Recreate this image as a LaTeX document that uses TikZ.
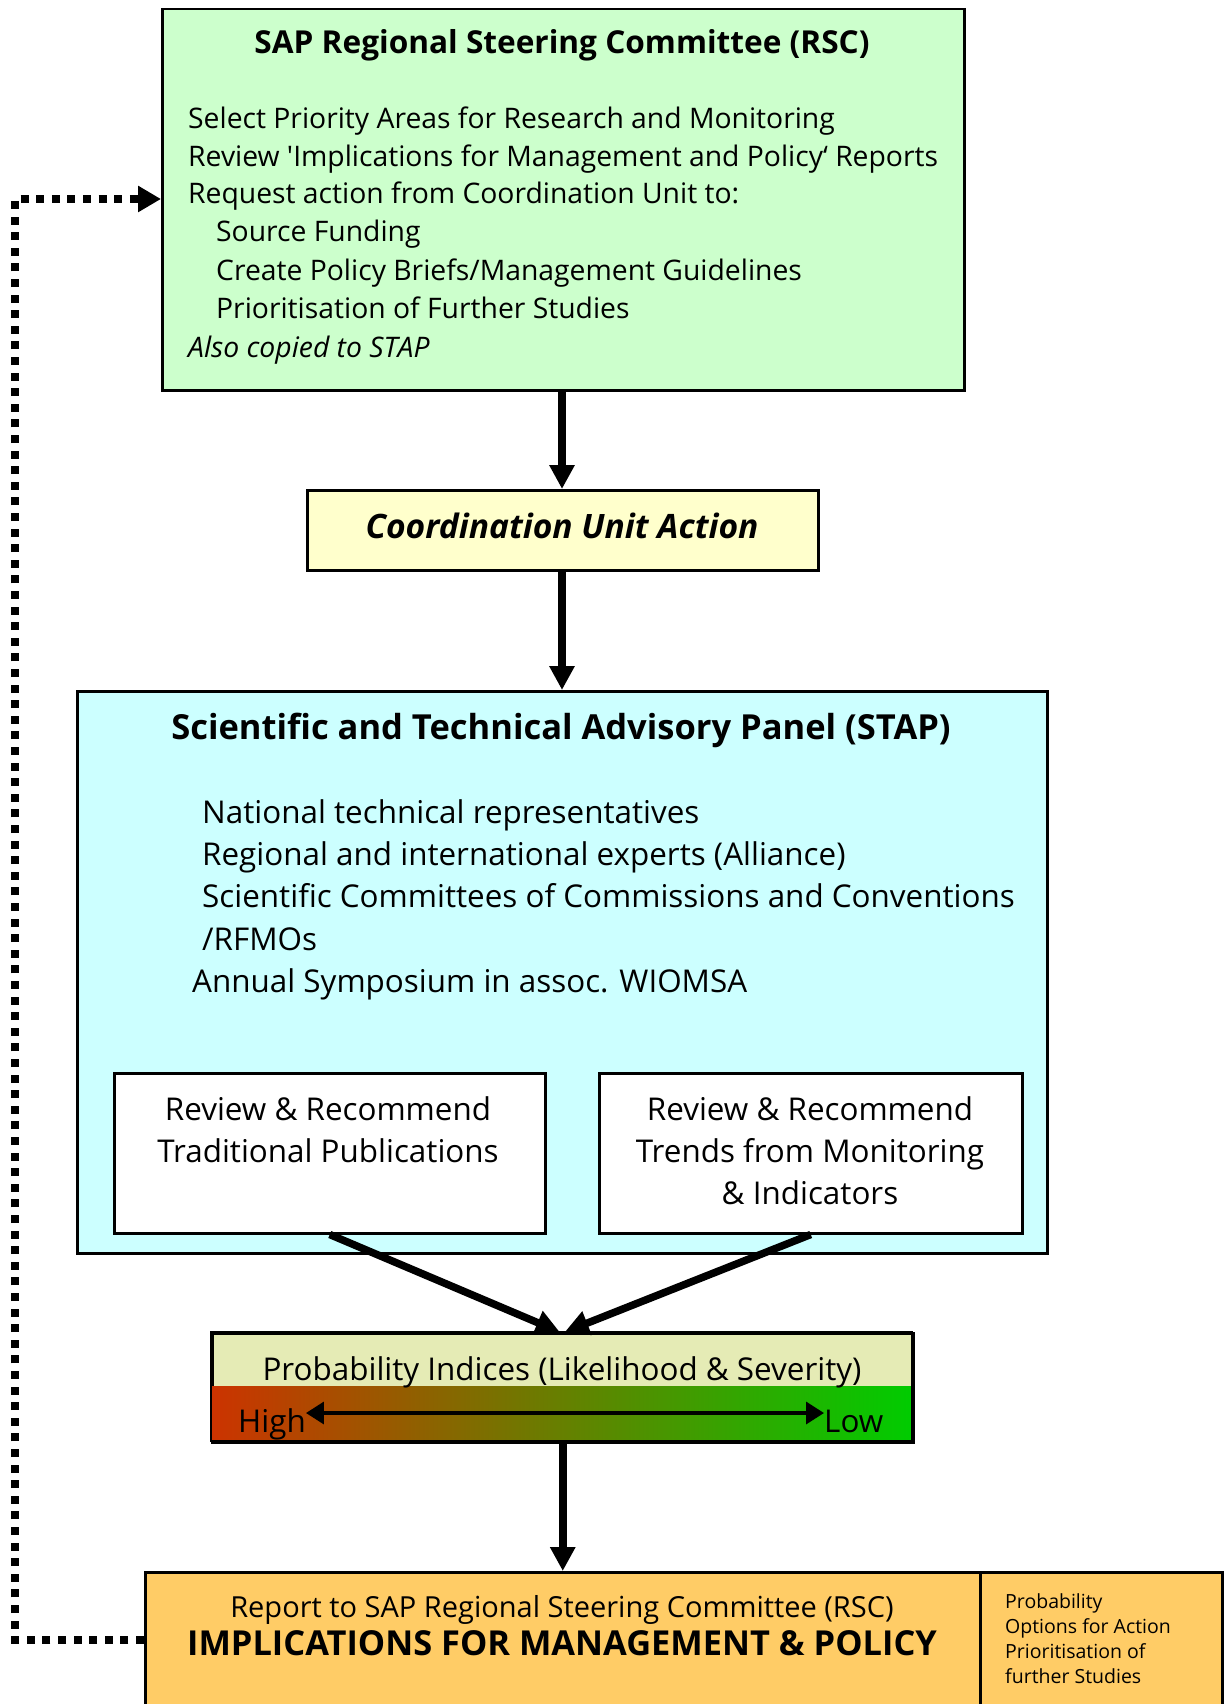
\documentclass[tikz,border=0pt]{standalone}
\usepackage{fontspec}
\setmainfont{Open Sans}
\usetikzlibrary{arrows.meta,calc}
\definecolor{rscgreen}{HTML}{CCFFCC}
\definecolor{cuyellow}{HTML}{FFFFCC}
\definecolor{stapcyan}{HTML}{CCFFFF}
\definecolor{probtop}{HTML}{E5EBB5}
\definecolor{rptorange}{HTML}{FFCC66}
\definecolor{hired}{HTML}{CC3300}
\definecolor{logreen}{HTML}{00CC00}
\begin{document}
\begin{tikzpicture}[x=1pt,y=-1pt,
  box/.style={draw=black,line width=2.5pt,inner sep=0pt,anchor=north west},
  txt/.style={inner sep=0pt,anchor=base west},
  ctxt/.style={inner sep=0pt,anchor=base},
  flow/.style={line width=7.5pt,-{Triangle[length=24pt,width=24pt]}},
  dotarrow/.style={line width=8pt,dash pattern=on 8pt off 7.6pt,-{Triangle[length=23pt,width=25pt]}},
  fa/.style={font=\fontsize{28.3}{33}\selectfont},
  fb/.style={font=\fontsize{31.4}{37}\selectfont},
  fs/.style={font=\fontsize{19.5}{23}\selectfont}]
\useasboundingbox (0,0) rectangle (1230,1704);
\fill[white] (0,0) rectangle (1230,1704);

% RSC box
\node[box,fill=rscgreen,minimum width=802pt,minimum height=381pt] (rsc) at (161,8) {};
\node[ctxt,font=\fontsize{31.6}{36}\selectfont\bfseries] (rsct) at (562,54) {SAP Regional Steering Committee (RSC)};
\node[txt,fa] (r1) at (188,129) {Select Priority Areas for Research and Monitoring};
\node[txt,fa] (r2) at (188,167) {Review \textquotesingle Implications for Management and Policy‘ Reports};
\node[txt,fa] (r3) at (188,204) {Request action from Coordination Unit to:};
\node[txt,fa] (r4) at (216,242) {Source Funding};
\node[txt,fa] (r5) at (216,280) {Create Policy Briefs/Management Guidelines};
\node[txt,fa] (r6) at (216,318) {Prioritisation of Further Studies};
\node[txt,fa] (r7) at (188,357) {\itshape Also copied to STAP};

% Coordination unit
\node[box,fill=cuyellow,minimum width=511pt,minimum height=80pt] (cu) at (306,489) {};
\node[ctxt,font=\fontsize{33.6}{38}\selectfont\bfseries\itshape] (cut) at (562,538) {Coordination Unit Action};

% STAP
\node[box,fill=stapcyan,minimum width=970pt,minimum height=562pt] (stap) at (76,690) {};
\node[ctxt,font=\fontsize{34.5}{40}\selectfont\bfseries] (stapt) at (561,739) {Scientific and Technical Advisory Panel (STAP)};
\node[txt,fb] (s1) at (202,823) {National technical representatives};
\node[txt,fb] (s2) at (202,865) {Regional and international experts (Alliance)};
\node[txt,fb] (s3) at (202,907) {Scientific Committees of Commissions and Conventions};
\node[txt,fb] (s4) at (202,950) {/RFMOs};
\node[txt,fb] (s5) at (192,992) {Annual Symposium in assoc. WIOMSA};

\node[box,fill=white,minimum width=431pt,minimum height=160pt] (lb) at (113,1072) {};
\node[ctxt,fb] (lb1) at (328,1120) {Review \& Recommend};
\node[ctxt,fb] (lb2) at (328,1162) {Traditional Publications};
\node[box,fill=white,minimum width=423pt,minimum height=160pt] (rb) at (598,1072) {};
\node[ctxt,fb] (rb1) at (810,1120) {Review \& Recommend};
\node[ctxt,fb] (rb2) at (810,1162) {Trends from Monitoring};
\node[ctxt,fb] (rb3) at (810,1204) {\& Indicators};

% Probability
\node[box,fill=probtop,minimum width=701pt,minimum height=109pt] (prob) at (211,1332) {};
\shade[left color=hired,right color=logreen] (211,1386) rectangle (912,1441);
\draw[line width=2.5pt] (211,1332) rectangle (912,1441);
\node[ctxt,fb] (probt) at (562,1380) {Probability Indices (Likelihood \& Severity)};
\node[txt,fb] (high) at (238,1432) {High};
\node[txt,fb] (low) at (824,1432) {Low};
\draw[line width=3.5pt,{Triangle[length=18pt,width=22pt]}-{Triangle[length=18pt,width=22pt]}] (high.base east |- 0,1413) -- (low.base west |- 0,1413);

% Report
\node[box,fill=rptorange,minimum width=835pt,minimum height=160pt] (rpt) at (144,1571) {};
\node[box,fill=rptorange,minimum width=242pt,minimum height=160pt] (opt) at (979,1571) {};
\node[ctxt,font=\fontsize{29}{34}\selectfont] (rpt1) at (562,1617) {Report to SAP Regional Steering Committee (RSC)};
\node[ctxt,font=\fontsize{34.4}{40}\selectfont\bfseries] (rpt2) at (562,1655) {IMPLICATIONS FOR MANAGEMENT \& POLICY};
\node[txt,fs] (o1) at (1005,1608) {Probability};
\node[txt,fs] (o2) at (1005,1633) {Options for Action};
\node[txt,fs] (o3) at (1005,1658) {Prioritisation of};
\node[txt,fs] (o4) at (1005,1683) {further Studies};

% connectors
\draw[flow] (rsc.south -| 562,0) -- (cu.north -| 562,0);
\draw[flow] (cu.south -| 562,0) -- (stap.north -| 562,0);
\draw[flow] (lb.south) -- ($(prob.north)+(-3,0)$);
\draw[flow] (rb.south) -- ($(prob.north)+(2,0)$);
\draw[flow] (prob.south) -- (rpt.north -| prob.south);
\coordinate (d1) at (15,1640);
\coordinate (d2) at (15,199);
\draw[dotarrow] (rpt.west |- d1) -- (d1) -- (d2) -- (rsc.west |- d2);
\end{tikzpicture}
\end{document}
